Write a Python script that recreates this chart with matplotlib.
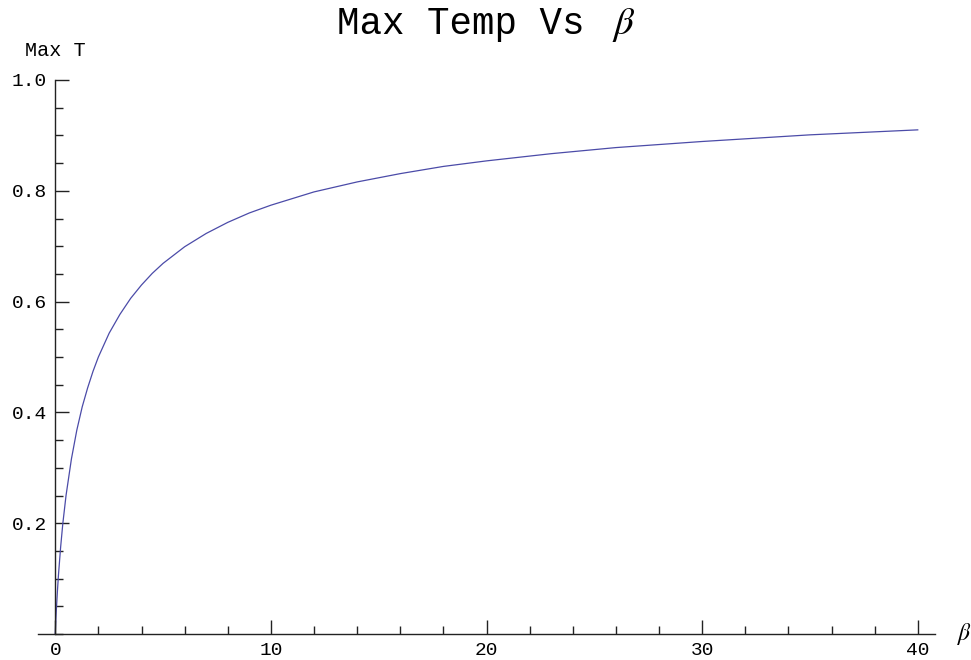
import matplotlib
matplotlib.use("Agg")
import matplotlib.pyplot as plt
from matplotlib.ticker import MultipleLocator, FixedLocator

# Values
beta = [0, 0.02, 0.05, 0.1, 0.15, 0.25, 0.35, 0.5, 0.75, 1, 1.25, 1.5, 1.75, 2,
        2.5, 3, 3.5, 4, 4.5, 5, 6, 7, 8, 9, 10, 12, 14, 16, 18, 20, 23, 26,
        30, 35, 40]
max_t = [0, 0.018, 0.043, 0.077, 0.107, 0.157, 0.199, 0.25, 0.316, 0.368,
         0.410, 0.444, 0.474, 0.5, 0.543, 0.577, 0.606, 0.630, 0.651, 0.669,
         0.699, 0.723, 0.743, 0.760, 0.774, 0.798, 0.816, 0.831, 0.844, 0.854,
         0.867, 0.878, 0.889, 0.901, 0.910]

x_ticks = [0, 10, 20, 30, 40]
y_ticks = [0.2, 0.4, 0.6, 0.8, 1.0]

mono = "Liberation Mono"
plt.rcParams["mathtext.fontset"] = "stix"

fig = plt.figure(figsize=(9.71, 6.6), dpi=100)
ax = fig.add_axes([38 / 971, 1 - 634 / 660, (935 - 38) / 971, (634 - 80) / 660])

ax.plot(beta, max_t, color="#4b4ba8", lw=0.9)

ax.set_xlim(-0.8, 40.8)
ax.set_ylim(0, 1.0)

for s in ["top", "right"]:
    ax.spines[s].set_visible(False)
ax.spines["left"].set_position(("data", 0))
ax.spines["bottom"].set_position(("data", 0))
for s in ["left", "bottom"]:
    ax.spines[s].set_linewidth(1.0)
    ax.spines[s].set_color("#222222")

ax.xaxis.set_major_locator(FixedLocator(x_ticks))
ax.xaxis.set_minor_locator(MultipleLocator(2))
ax.yaxis.set_major_locator(FixedLocator(y_ticks))
ax.yaxis.set_minor_locator(MultipleLocator(0.05))
ax.set_xticklabels([str(v) for v in x_ticks], family=mono, fontsize=14)
ax.set_yticklabels(["%.1f" % v for v in y_ticks], family=mono, fontsize=14)

ax.tick_params(which="both", direction="in", color="#222222", width=1.0)
ax.tick_params(which="major", length=10)
ax.tick_params(axis="y", which="major", pad=6)
ax.tick_params(axis="x", which="major", pad=6)
ax.tick_params(which="minor", length=6)

# axis labels
ax.text(0, 1.043, "Max T", family=mono, fontsize=14.5, ha="center", va="baseline")
ax.text(41.8, 0.0, r"$\beta$", fontsize=17, ha="left", va="center")

# title: monospace text followed by an italic beta
fig.text(607 / 971, 1 - 34 / 660, "Max Temp Vs ", family=mono, fontsize=27,
         ha="right", va="baseline")
fig.text(612 / 971, 1 - 34 / 660, r"$\beta$", fontsize=28, ha="left", va="baseline")

fig.savefig("out.png", dpi=100)
